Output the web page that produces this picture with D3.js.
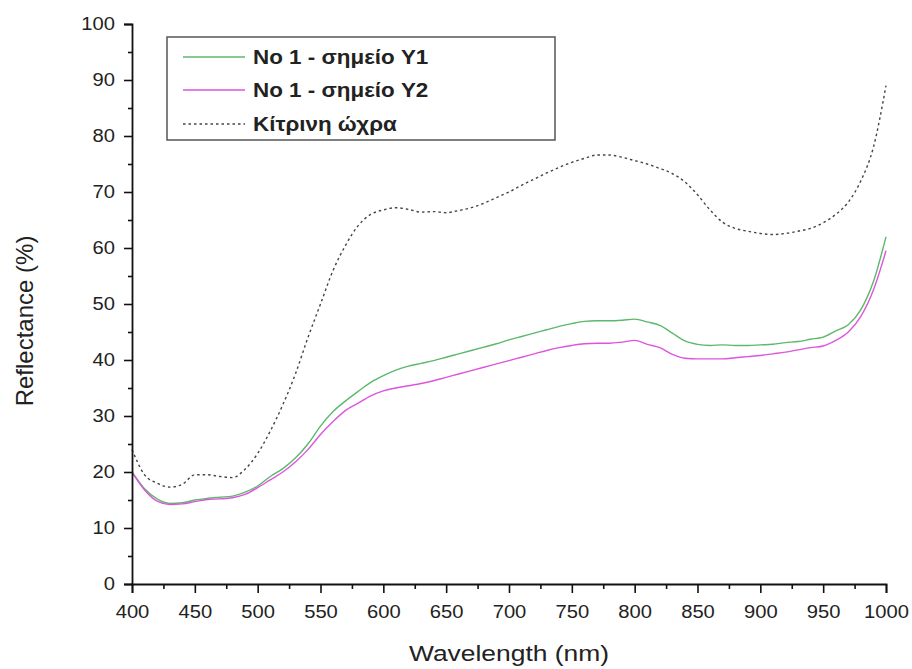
<!DOCTYPE html>
<html>
<head>
<meta charset="utf-8">
<script src="https://cdn.jsdelivr.net/npm/d3@7"></script>
<style>
  html, body { margin: 0; padding: 0; background: #fff; }
  svg { display: block; font-family: "Liberation Sans", Arial, sans-serif; }
</style>
</head>
<body>
<svg id="chart" width="912" height="669"></svg>
<script>
// Reflectance spectra, 400–1000 nm in 10 nm steps
const wavelengths = d3.range(400, 1001, 10);

const seriesY1 = [
  20.0, 17.0, 15.2, 14.4, 14.5, 15.0, 15.3, 15.5, 15.7, 16.4,
  17.5, 19.2, 20.6, 22.5, 25.0, 28.2, 30.8, 32.7, 34.4, 36.0,
  37.2, 38.2, 38.9, 39.4, 39.9, 40.5, 41.1, 41.7, 42.3, 42.9,
  43.6, 44.2, 44.8, 45.4, 46.0, 46.5, 46.9, 47.0, 47.0, 47.1,
  47.3, 46.8, 46.2, 44.8, 43.4, 42.8, 42.6, 42.7, 42.6, 42.6,
  42.7, 42.8, 43.1, 43.3, 43.7, 44.1, 45.2, 46.3, 49.0, 54.0,
  62.0
];

const seriesY2 = [
  20.0, 16.8, 14.8, 14.2, 14.3, 14.7, 15.1, 15.2, 15.4, 16.0,
  17.2, 18.6, 20.0, 21.8, 24.0, 26.7, 29.0, 31.0, 32.3, 33.6,
  34.5, 35.0, 35.4, 35.8, 36.3, 36.9, 37.5, 38.1, 38.7, 39.3,
  39.9, 40.5, 41.1, 41.7, 42.2, 42.6, 42.9, 43.0, 43.0, 43.2,
  43.5, 42.8, 42.2, 41.0, 40.3, 40.2, 40.2, 40.2, 40.4, 40.6,
  40.8, 41.1, 41.4, 41.8, 42.2, 42.5, 43.5, 45.0, 47.8, 52.5,
  59.5
];

const seriesOchre = [
  24.0, 19.5, 18.0, 17.3, 17.8, 19.5, 19.5, 19.2, 19.0, 20.5,
  23.3, 27.3, 32.0, 37.5, 44.0, 50.0, 56.0, 60.5, 64.0, 66.0,
  66.8, 67.2, 66.9, 66.4, 66.5, 66.3, 66.7, 67.2, 68.0, 69.0,
  70.0, 71.2, 72.3, 73.4, 74.4, 75.3, 76.0, 76.6, 76.6, 76.2,
  75.6, 75.0, 74.2, 73.3, 71.8, 69.5, 66.8, 64.6, 63.5, 63.0,
  62.6, 62.4, 62.6, 63.0, 63.5, 64.5, 66.0, 68.2, 72.0, 78.0,
  89.0
];

const seriesNames = ["No 1 - σημείο Y1", "No 1 - σημείο Y2", "Κίτρινη ώχρα"];
const xTicks = d3.range(400, 1001, 50);
const yTicks = d3.range(0, 101, 10);

const svg = d3.select("#chart");
const margin = { left: 132, right: 26, top: 24, bottom: 85 };
const W = 912, H = 669;

const x = d3.scaleLinear().domain([400, 1000]).range([margin.left, W - margin.right]);
const y = d3.scaleLinear().domain([0, 100]).range([H - margin.bottom, margin.top]);

const series = [
  { name: seriesNames[0], values: seriesY1, color: "#5cb86a", width: 1.4, dash: null },
  { name: seriesNames[1], values: seriesY2, color: "#dd55dd", width: 1.4, dash: null },
  { name: seriesNames[2], values: seriesOchre, color: "#444", width: 1.4, dash: "2.5,3" }
];

// Widen horizontal text a little (wide label lettering)
function widen(sel, k) {
  sel.each(function () {
    const len = this.getComputedTextLength();
    d3.select(this)
      .attr("textLength", len * k)
      .attr("lengthAdjust", "spacingAndGlyphs");
  });
}

const line = d3.line()
  .x(d => x(d[0]))
  .y(d => y(d[1]))
  .curve(d3.curveMonotoneX);

const plot = svg.append("g");
series.forEach(s => {
  plot.append("path")
    .datum(wavelengths.map((w, i) => [w, s.values[i]]))
    .attr("fill", "none")
    .attr("stroke", s.color)
    .attr("stroke-width", s.width)
    .attr("stroke-dasharray", s.dash)
    .attr("d", line);
});

// Axes
const tickFont = 18;
svg.append("g")
  .attr("class", "x-axis")
  .attr("transform", `translate(0,${y(0)})`)
  .call(d3.axisBottom(x).tickValues(xTicks).tickSize(9).tickPadding(12).tickFormat(d3.format("d")));
svg.append("g")
  .attr("transform", `translate(0,${y(0)})`)
  .call(d3.axisBottom(x).tickValues(d3.range(425, 1000, 50)).tickSize(5).tickFormat(""))
  .call(g => g.select(".domain").remove());

svg.append("g")
  .attr("class", "y-axis")
  .attr("transform", `translate(${x(400)},0)`)
  .call(d3.axisLeft(y).tickValues(yTicks).tickSize(8).tickPadding(9));
svg.append("g")
  .attr("transform", `translate(${x(400)},0)`)
  .call(d3.axisLeft(y).tickValues(d3.range(5, 100, 10)).tickSize(4).tickFormat(""))
  .call(g => g.select(".domain").remove());

svg.selectAll(".domain").attr("stroke", "#111").attr("stroke-width", 1.8);
svg.selectAll(".tick line").attr("stroke", "#111").attr("stroke-width", 1.6);
svg.selectAll(".tick text")
  .attr("font-size", tickFont)
  .attr("font-family", "'Liberation Sans', Arial, sans-serif")
  .attr("fill", "#222")
  .call(widen, 1.12);

// Axis titles
svg.append("text")
  .attr("x", (x(400) + x(1000)) / 2)
  .attr("y", 661)
  .attr("text-anchor", "middle")
  .attr("font-size", 22)
  .attr("fill", "#222")
  .text("Wavelength (nm)")
  .call(widen, 1.2);

svg.append("text")
  .attr("transform", "translate(33,321) rotate(-90)")
  .attr("text-anchor", "middle")
  .attr("font-size", 24)
  .attr("fill", "#222")
  .text("Reflectance (%)");

// Legend
const legend = svg.append("g");
legend.append("rect")
  .attr("x", 167).attr("y", 37)
  .attr("width", 388).attr("height", 103)
  .attr("fill", "#fff")
  .attr("stroke", "#555")
  .attr("stroke-width", 1.5);

const rowY = [57, 90, 124];
series.forEach((s, i) => {
  legend.append("line")
    .attr("x1", 183).attr("x2", 245)
    .attr("y1", rowY[i]).attr("y2", rowY[i])
    .attr("stroke", s.color)
    .attr("stroke-width", s.width)
    .attr("stroke-dasharray", s.dash);
  legend.append("text")
    .attr("x", 253)
    .attr("y", rowY[i])
    .attr("dy", "0.36em")
    .attr("font-size", 20)
    .attr("font-weight", "bold")
    .attr("fill", "#222")
    .text(s.name)
    .call(widen, 1.12);
});
</script>
</body>
</html>
